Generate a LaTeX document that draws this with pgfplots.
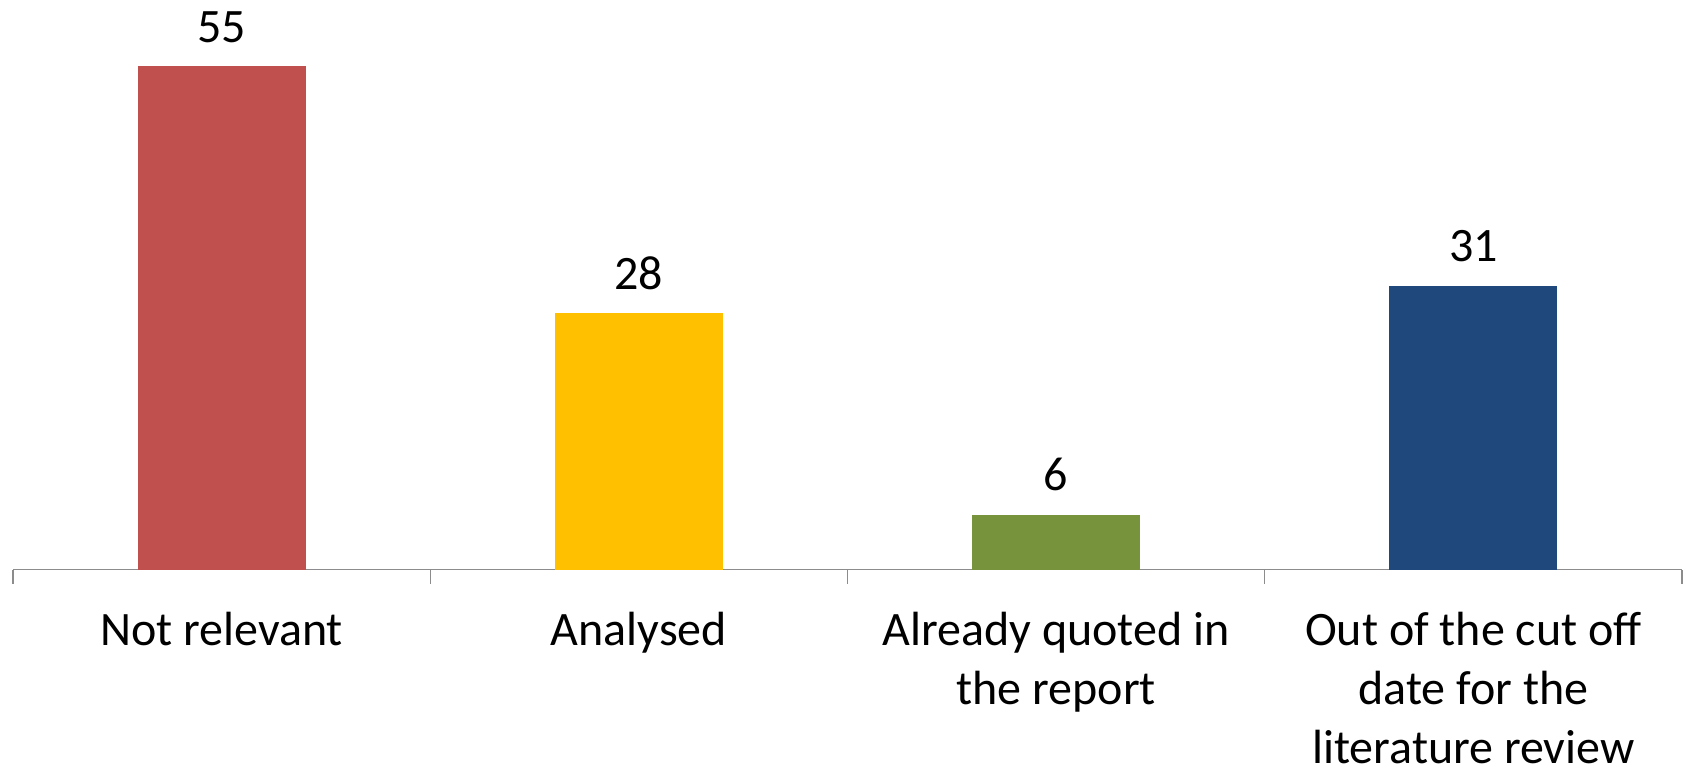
\documentclass[border=0pt]{standalone}
\usepackage{pgfplots}
\pgfplotsset{compat=1.18}
\usepackage{fontspec}
\setmainfont{Carlito}
\definecolor{cRed}{HTML}{C0504D}
\definecolor{cGold}{HTML}{FFC000}
\definecolor{cGreen}{HTML}{77933C}
\definecolor{cBlue}{HTML}{1F497D}
\definecolor{axgray}{HTML}{8C8C8C}
\begin{document}
\begin{tikzpicture}
\begin{axis}[
  at={(0,0)}, anchor=south west,
  scale only axis,
  width=834.5pt, height=251.75pt,
  xmin=-0.5, xmax=3.5, ymin=0, ymax=55,
  clip=false,
  axis x line=bottom, axis y line=none,
  axis line style={draw=axgray, line width=0.7pt, -},
  xtick={-0.5,0.5,1.5,2.5,3.5},
  xticklabels={},
  xtick align=outside,
  major tick length=7pt,
  tick style={draw=axgray, line width=0.7pt},
  extra x ticks={0,1,2,3},
  extra x tick labels={Not relevant,Analysed,{Already quoted in\\the report},{Out of the cut off\\date for the\\literature review}},
  extra x tick style={major tick length=0pt, tick style={draw=none}},
  xticklabel style={font=\fontsize{24}{29.5}\selectfont, align=center, anchor=north, inner sep=0pt, yshift=-21pt},
  /pgf/number format/assume math mode=true,
  nodes near coords,
  every node near coord/.append style={font=\fontsize{24}{30}\selectfont, anchor=base, inner sep=0pt, yshift=12pt, text=black},
  ybar, bar width=84pt,
]
\addplot[ybar, bar shift=0pt, fill=cRed, draw=none] coordinates {(0,55)};
\addplot[ybar, bar shift=0pt, fill=cGold, draw=none] coordinates {(1,28)};
\addplot[ybar, bar shift=0pt, fill=cGreen, draw=none] coordinates {(2,6)};
\addplot[ybar, bar shift=0pt, fill=cBlue, draw=none] coordinates {(3,31)};
\end{axis}
\pgfresetboundingbox
\path[use as bounding box] (-6.5pt,-99.25pt) rectangle (836.5pt,284.75pt);
\end{tikzpicture}
\end{document}
